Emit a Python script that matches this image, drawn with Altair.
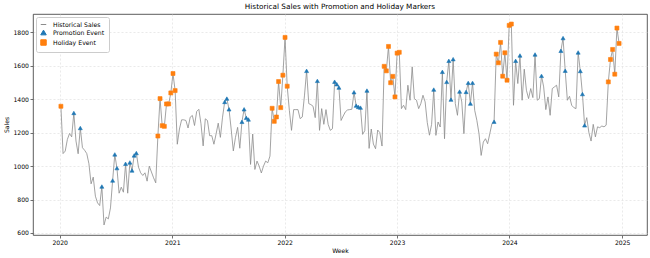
import altair as alt
import pandas as pd

# Weekly sales, one value per week starting the first Sunday of 2020
sales = [
    1358, 1075, 1090, 1160, 1195, 1175, 1318, 1150, 1074, 1228,
    1110, 1095, 1075, 1014, 894, 934, 820, 780, 764, 878,
    648, 695, 684, 750, 914, 1070, 988, 838, 874, 844,
    1014, 838, 1022, 974, 1064, 1078, 994, 960, 944, 960,
    910, 1000, 965, 930, 900, 1180, 1404, 1242, 1238, 1372,
    1372, 1438, 1554, 1452, 1131, 1222, 1277, 1277, 1273, 1228,
    1293, 1303, 1243, 1327, 1340, 1253, 1121, 1283, 1273, 1182,
    1182, 1131, 1192, 1257, 1172, 1293, 1384, 1404, 1340, 1222,
    1091, 1172, 1232, 1107, 1265, 1340, 1289, 1279, 1010, 1192,
    980, 1030, 1000, 959, 1000, 1030, 1020, 1060, 1346, 1268,
    1294, 1506, 1350, 1544, 1770, 1478, 1334, 1214, 1338, 1338,
    1338, 1284, 1294, 1420, 1570, 1374, 1368, 1358, 1290, 1510,
    1214, 1344, 1250, 1338, 1250, 1214, 1224, 1505, 1490, 1470,
    1273, 1300, 1325, 1336, 1338, 1340, 1442, 1362, 1354, 1350,
    1190, 1212, 1452, 1106, 1222, 1132, 1104, 1216, 1200, 1120,
    1597, 1570, 1716, 1499, 1537, 1414, 1676, 1681, 1344, 1364,
    1338, 1484, 1394, 1594, 1404, 1394, 1344, 1374, 1424, 1384,
    1260, 1185, 1250, 1458, 1184, 1264, 1234, 1564, 1164, 1504,
    1630, 1398, 1640, 1374, 1304, 1446, 1384, 1194, 1444, 1498,
    1374, 1498, 1334, 1274, 1194, 1064, 1144, 1164, 1134, 1194,
    1254, 1266, 1670, 1618, 1740, 1538, 1678, 1514, 1842, 1850,
    1364, 1630, 1494, 1662, 1394, 1580, 1454, 1404, 1464, 1410,
    1668, 1394, 1404, 1540, 1474, 1338, 1414, 1304, 1464, 1474,
    1484, 1414, 1690, 1766, 1571, 1394, 1418, 1364, 1350, 1344,
    1680, 1569, 1431, 1244, 1290, 1200, 1150, 1250, 1175, 1235,
    1230, 1240, 1235, 1245, 1504, 1638, 1698, 1550, 1826, 1734,
]

# Week indices flagged as promotion weeks and holiday weeks
promo_weeks = [
    6, 9, 19, 24, 25, 26, 30, 32, 33, 34, 35,
    76, 77, 78, 84, 85, 86, 87,
    114, 119, 127, 128, 129, 136, 137, 138, 139, 142,
    173, 177, 179, 180, 181, 182, 185, 188, 189, 190, 191, 201,
    211, 213, 220, 223, 232, 233, 234, 240, 241, 242, 243,
]
holiday_weeks = (
    [0]
    + list(range(45, 54))
    + list(range(98, 106))
    + list(range(150, 158))
    + list(range(202, 210))
    + list(range(254, 260))
)

series_names = ["Historical Sales", "Promotion Event", "Holiday Event"]
series_colors = ["#8c8c8c", "#1f77b4", "#ff7f0e"]
series_shapes = ["stroke", "triangle-up", "square"]
year_ticks = [2020, 2021, 2022, 2023, 2024, 2025]
sales_ticks = [600, 800, 1000, 1200, 1400, 1600, 1800]

weeks = pd.date_range(start="2020-01-01", periods=len(sales), freq="W")
line_df = pd.DataFrame({
    "week": weeks.strftime("%Y-%m-%d"),
    "sales": sales,
    "series": series_names[0],
})

event_rows = []
for name, idx in ((series_names[1], promo_weeks), (series_names[2], holiday_weeks)):
    for i in idx:
        event_rows.append({"week": weeks[i].strftime("%Y-%m-%d"),
                           "sales": sales[i], "series": name})
event_df = pd.DataFrame(event_rows)

# Axis limits padded by 5% of the data range on each side
span = weeks[-1] - weeks[0]
x_lo = int((weeks[0] - 0.05 * span).value // 10**6)
x_hi = int((weeks[-1] + 0.05 * span).value // 10**6)
y_min, y_max = min(sales), max(sales)
y_pad = 0.05 * (y_max - y_min)

FONT = "DejaVu Sans"

x_enc = alt.X(
    "week:T",
    scale=alt.Scale(type="utc", domain=[x_lo, x_hi]),
    axis=alt.Axis(
        title="Week",
        values=[alt.DateTime(year=y, month=1, date=1, utc=True) for y in year_ticks],
        format="%Y",
    ),
)
y_enc = alt.Y(
    "sales:Q",
    scale=alt.Scale(domain=[y_min - y_pad, y_max + y_pad], nice=False, zero=False),
    axis=alt.Axis(title="Sales", values=sales_ticks, format="d"),
)

legend = alt.Legend(title=None, orient="top-left")
stroke_enc = alt.Stroke(
    "series:N", scale=alt.Scale(domain=series_names, range=series_colors), legend=legend
)
fill_enc = alt.Fill(
    "series:N", scale=alt.Scale(domain=series_names, range=series_colors), legend=legend
)
shape_enc = alt.Shape(
    "series:N", scale=alt.Scale(domain=series_names, range=series_shapes), legend=legend
)

line = alt.Chart(line_df).mark_line(strokeWidth=0.8).encode(
    x=x_enc, y=y_enc, stroke=stroke_enc
)
points = alt.Chart(event_df).mark_point(
    filled=True, size=16, opacity=1, strokeWidth=0.6
).encode(
    x=x_enc, y=y_enc, fill=fill_enc, stroke=stroke_enc, shape=shape_enc
)

chart = (
    alt.layer(line, points)
    .properties(
        width=614,
        height=221,
        autosize=alt.AutoSizeParams(type="none"),
        padding={"left": 33, "top": 14, "right": 3, "bottom": 23},
        title=alt.TitleParams(
            "Historical Sales with Promotion and Holiday Markers",
            font=FONT, fontSize=7.3, fontWeight="normal", color="#000",
            anchor="middle", offset=4,
        ),
    )
    .configure_view(stroke="#333333", strokeWidth=0.8, fill="white")
    .configure_axis(
        labelFont=FONT, labelFontSize=6.1, labelColor="#000",
        titleFont=FONT, titleFontSize=6.1, titleColor="#000", titleFontWeight="normal",
        tickSize=3, tickColor="#333", tickWidth=0.7, labelPadding=1.5,
        domain=False, grid=True, gridColor="#dcdcdc", gridDash=[2, 2], gridWidth=0.6,
    )
    .configure_axisX(titlePadding=2)
    .configure_axisY(titlePadding=3)
    .configure_legend(
        labelFont=FONT, labelFontSize=6.2, labelColor="#000",
        symbolSize=30, symbolStrokeWidth=1, rowPadding=0,
        padding=4, offset=3, fillColor="white", strokeColor="#cccccc",
        cornerRadius=2, labelOffset=6,
    )
)

chart.save("out.html", embed_options={"renderer": "svg", "actions": False})
